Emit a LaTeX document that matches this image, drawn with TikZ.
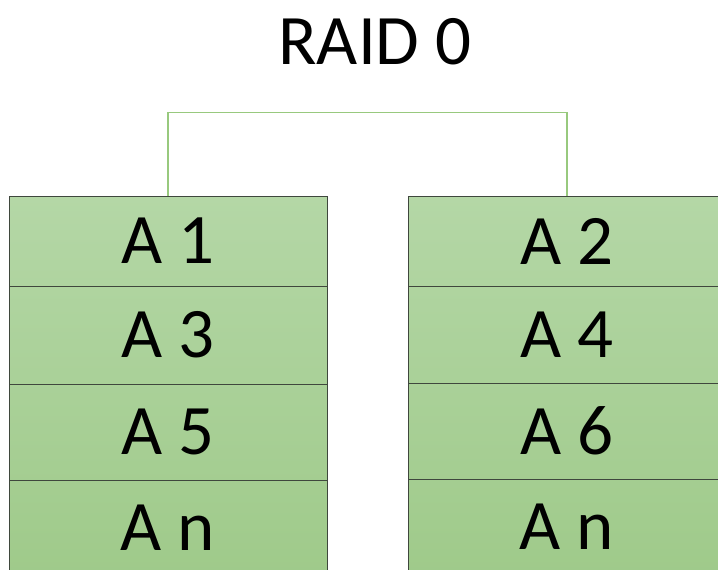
\documentclass[tikz,border=0pt]{standalone}
\usepackage{fontspec}
\setmainfont{Carlito}
\definecolor{cellTop}{HTML}{B4D7A6}
\definecolor{cellBot}{HTML}{9FCA8A}
\definecolor{cellLine}{HTML}{3F473D}
\definecolor{linkGreen}{HTML}{98C97E}
\tikzset{
  cell/.style={draw=cellLine,line width=1pt,minimum width=318pt,inner sep=0pt,
    font=\fontsize{71}{71}\selectfont},
  link/.style={draw=linkGreen,line width=1.2pt}
}

\begin{document}
\begin{tikzpicture}[x=1pt,y=-1pt]
\useasboundingbox (0,0) rectangle (718,570);
\clip (0,0) rectangle (718,570);
\node (title) at (375,42) {\fontsize{71}{71}\selectfont RAID 0};

\shade[top color=cellTop,bottom color=cellBot] (9,196) rectangle (327,576);
\shade[top color=cellTop,bottom color=cellBot] (408,196) rectangle (726,576);

\node[cell,minimum height=90pt] (a1) at (168,241) {A 1};
\node[cell,minimum height=98pt] (a3) at (168,335) {A 3};
\node[cell,minimum height=96pt] (a5) at (168,432) {A 5};
\node[cell,minimum height=96pt] (an1) at (168,528) {A n};

\node[cell,minimum height=90pt] (a2) at (567,241) {A 2};
\node[cell,minimum height=97pt] (a4) at (567,334.5) {A 4};
\node[cell,minimum height=96pt] (a6) at (567,431) {A 6};
\node[cell,minimum height=96pt] (an2) at (567,527) {A n};

\draw[link] (a1.north) -- ++(0,-83) -| (a2.north);
\end{tikzpicture}
\end{document}
